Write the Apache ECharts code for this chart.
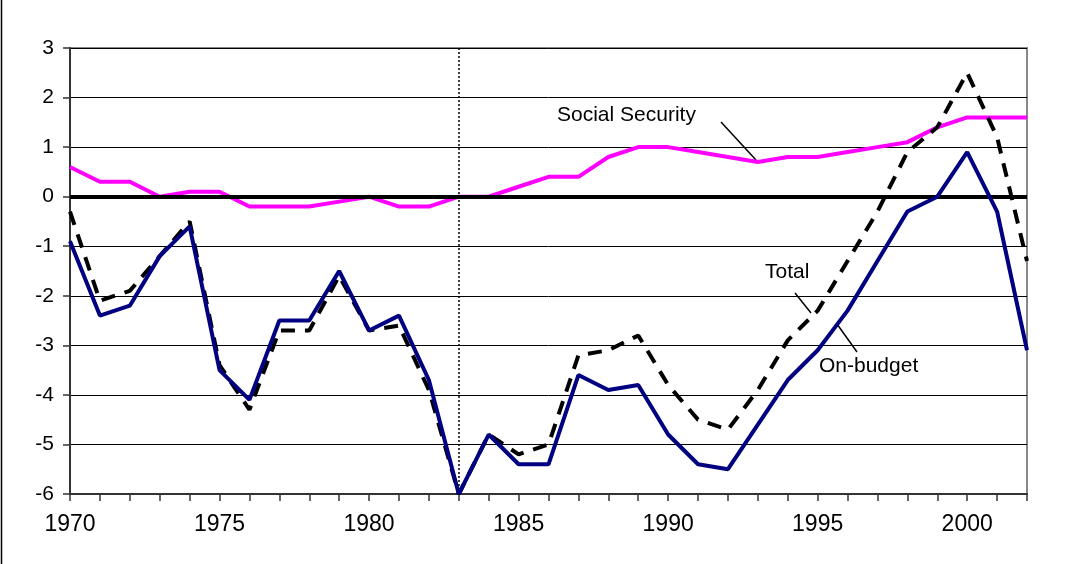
<!DOCTYPE html>
<html>
<head>
<meta charset="utf-8">
<script src="https://cdn.jsdelivr.net/npm/echarts@6/dist/echarts.min.js"></script>
<style>html,body{margin:0;padding:0;background:#fff}#c{width:1084px;height:564px}</style>
</head>
<body>
<div id="c"></div>
<script>
var years = [];
for (var y = 1970; y <= 2002; y++) years.push(y);

var socialSecurity = [0.6,0.3,0.3,0.0,0.1,0.1,-0.2,-0.2,-0.2,-0.1,0.0,-0.2,-0.2,0.0,0.0,0.2,0.4,0.4,0.8,1.0,1.0,0.9,0.8,0.7,0.8,0.8,0.9,1.0,1.1,1.4,1.6,1.6,1.6];
var onBudget = [-0.9,-2.4,-2.2,-1.2,-0.6,-3.5,-4.1,-2.5,-2.5,-1.5,-2.7,-2.4,-3.7,-6.0,-4.8,-5.4,-5.4,-3.6,-3.9,-3.8,-4.8,-5.4,-5.5,-4.6,-3.7,-3.1,-2.3,-1.3,-0.3,0.0,0.9,-0.3,-3.1];
var total = [-0.3,-2.1,-1.9,-1.2,-0.5,-3.4,-4.3,-2.7,-2.7,-1.6,-2.7,-2.6,-3.9,-6.0,-4.8,-5.2,-5.0,-3.2,-3.1,-2.8,-3.8,-4.5,-4.7,-3.9,-2.9,-2.3,-1.3,-0.3,0.9,1.4,2.5,1.2,-1.3];
var yTicks = [-6,-5,-4,-3,-2,-1,0,1,2,3];
var xLabelYears = [1970,1975,1980,1985,1990,1995,2000];
var markerYear = 1983;

function pairs(arr){ return years.map(function(yr,i){ return [yr, arr[i]]; }); }

var FONT = '"Liberation Sans", Arial, sans-serif';
var chart = echarts.init(document.getElementById('c'));
chart.setOption({
  animation: false,
  backgroundColor: '#fff',
  grid: { left: 70, right: 57, top: 48, bottom: 70, show: true, borderColor: '#888', borderWidth: 2, backgroundColor: 'transparent' },
  xAxis: {
    type: 'value', min: 1970, max: 2002, interval: 1,
    axisLine: { show: true, onZero: false, lineStyle: { color: '#333', width: 2 } },
    axisTick: { show: true, length: 7, lineStyle: { color: '#333', width: 1.5 } },
    splitLine: { show: false },
    axisLabel: {
      margin: 19, color: '#000', fontSize: 23, fontFamily: FONT,
      formatter: function(v){ return xLabelYears.indexOf(v) >= 0 ? String(v) : ''; }
    }
  },
  yAxis: {
    type: 'value', min: -6, max: 3, interval: 1,
    axisLine: { show: true, lineStyle: { color: '#333', width: 2 } },
    axisTick: { show: true, length: 7, lineStyle: { color: '#333', width: 1.5 } },
    splitLine: { show: true, lineStyle: { color: '#000', width: 1 } },
    axisLabel: {
      margin: 16, color: '#000', fontSize: 21, fontFamily: FONT,
      formatter: function(v){ return yTicks.indexOf(v) >= 0 ? String(v) : ''; }
    }
  },
  series: [
    {
      name: 'Social Security', type: 'line', data: pairs(socialSecurity), symbol: 'none',
      lineStyle: { color: '#FF00FF', width: 4 }, z: 3,
      markLine: {
        silent: true, symbol: 'none', label: { show: false },
        data: [
          { yAxis: 0, lineStyle: { color: '#000', width: 4, type: 'solid' } },
          { xAxis: markerYear, lineStyle: { color: '#000', width: 1.5, type: [2, 2] } }
        ]
      }
    },
    {
      name: 'Total', type: 'line', data: pairs(total), symbol: 'none',
      lineStyle: { color: '#000', width: 4, type: [14, 10] }, z: 4
    },
    {
      name: 'On-budget', type: 'line', data: pairs(onBudget), symbol: 'none',
      lineStyle: { color: '#000080', width: 4 }, z: 5
    }
  ],
  graphic: [
    { type: 'line', shape: { x1: 1.5, y1: 0, x2: 1.5, y2: 564 }, style: { stroke: '#000', lineWidth: 1.5 } },
    { type: 'text', left: 557, top: 105, style: { text: 'Social Security', font: '21px ' + FONT, fill: '#000' } },
    { type: 'line', shape: { x1: 721, y1: 122, x2: 756, y2: 160 }, style: { stroke: '#000', lineWidth: 1.5 } },
    { type: 'text', left: 765, top: 262, style: { text: 'Total', font: '21px ' + FONT, fill: '#000' } },
    { type: 'line', shape: { x1: 795, y1: 293, x2: 811, y2: 313 }, style: { stroke: '#000', lineWidth: 1.5 } },
    { type: 'text', left: 819, top: 356, style: { text: 'On-budget', font: '21px ' + FONT, fill: '#000' } },
    { type: 'line', shape: { x1: 837, y1: 324, x2: 857, y2: 352 }, style: { stroke: '#000', lineWidth: 1.5 } }
  ]
});
</script>
</body>
</html>
